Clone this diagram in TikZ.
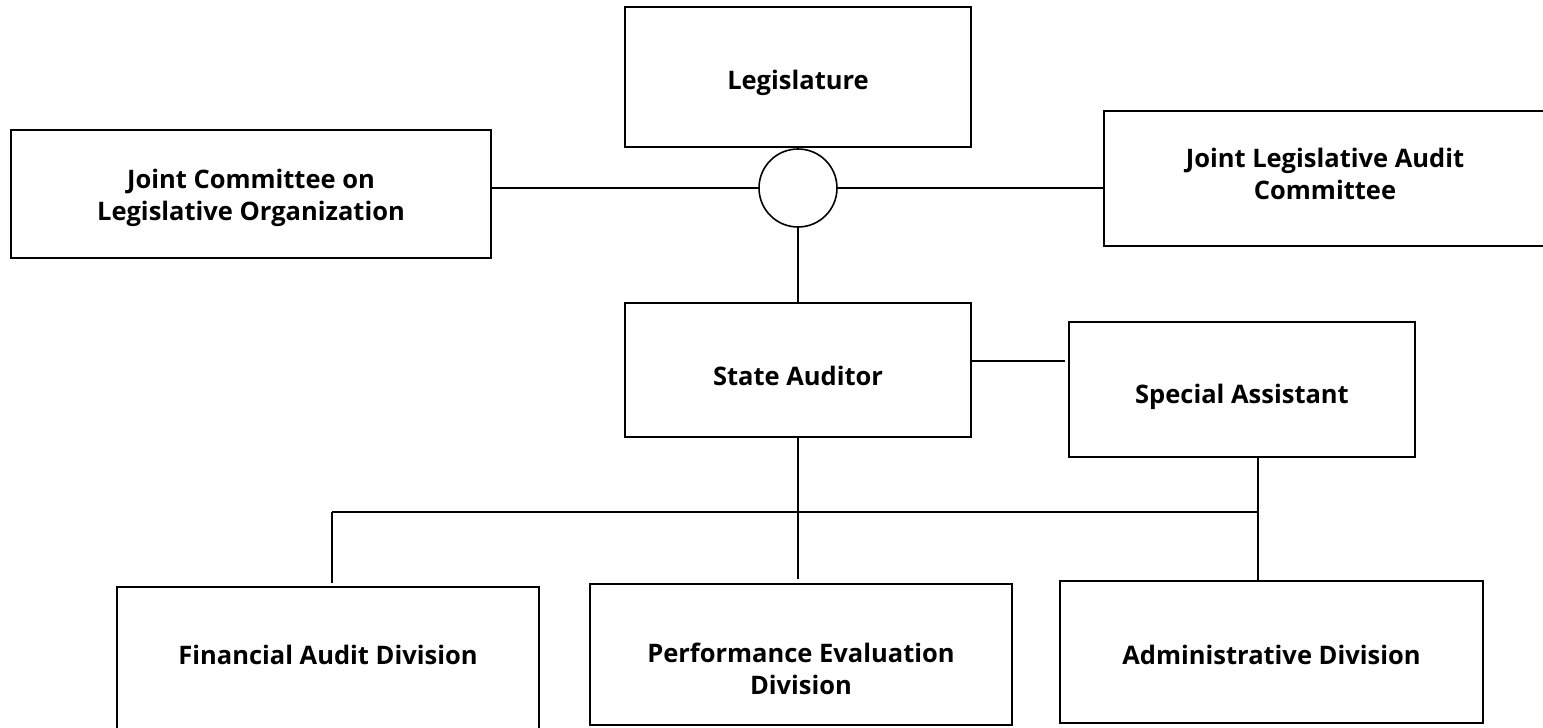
\documentclass[tikz,border=0pt]{standalone}
\usepackage{fontspec}
\setmainfont{Open Sans}
\usetikzlibrary{positioning,calc}
\tikzset{
    x=0.5pt,y=-0.5pt,
    unit/.style 2 args={draw,line width=0.8pt,inner sep=0pt,
        minimum width=#1*0.5pt,minimum height=#2*0.5pt},
    txt/.style={align=center,inner sep=0pt,font=\bfseries\fontsize{12.75}{16}\selectfont},
    hub/.style={circle,draw,line width=0.8pt,minimum size=78*0.5pt,inner sep=0pt},
    link/.style={line width=0.6pt}
}

\begin{document}
\begin{tikzpicture}
    \useasboundingbox (0,0) rectangle (1543,728);

    % top row
    \node[unit={346}{140},label={[txt,yshift=-2.8pt]center:Legislature}] (leg) at (798,77) {};
    \node[hub] (hub) at (798,188) {};
    \node[unit={480}{128},label={[txt,yshift=-1.8pt]center:{Joint Committee on\\Legislative Organization}}] (jclo) at (251,194) {};
    \node[unit={442}{135},label={[txt,yshift=2.2pt]center:{Joint Legislative Audit\\Committee}}] (jlac) at (1325,178.5) {};

    % auditor and assistant
    \node[unit={346}{134},label={[txt,yshift=-3pt]center:State Auditor}] (sa) at (798,370) {};
    \node[unit={346}{135},label={[txt,yshift=-3.5pt]center:Special Assistant}] (sp) at (1242,389.5) {};

    % divisions
    \node[unit={422}{142},label={[txt,yshift=1.5pt]center:Financial Audit Division}] (fad) at (328,658) {};
    \node[unit={422}{141},label={[txt,yshift=-7pt]center:{Performance Evaluation\\Division}}] (ped) at (801,654.5) {};
    \node[unit={423}{142},label={[txt,yshift=-1.3pt]center:Administrative Division}] (adm) at (1271.5,652) {};

    \coordinate (busL) at (332,512);
    \coordinate (busR) at (1258,512);

    \draw[link] (hub.west -| jclo.east) -- (hub.west);
    \draw[link] (hub.east) -- (hub.east -| jlac.west);
    \draw[link] (hub.south) -- (sa.north);
    \draw[link,shorten >=1.5pt] ($(sa.east)+(0,-9)$) -- ($(sa.east -| sp.west)+(0,-9)$);
    \draw[link,shorten >=2pt] (sa.south) -- (sa.south |- ped.north);
    \draw[link] (busL) -- (busR);
    \draw[link,shorten >=1.5pt] (busL) -- (busL |- fad.north);
    \draw[link] (busR |- sp.south) -- (busR |- adm.north);
\end{tikzpicture}
\end{document}
